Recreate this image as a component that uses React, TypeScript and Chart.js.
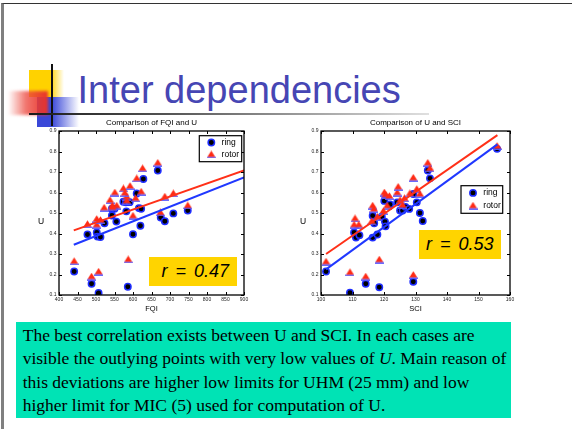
import React, { useEffect, useRef } from 'react';
import { Chart, registerables } from 'chart.js';

Chart.register(...registerables);

const SANS = '"Liberation Sans", Arial, Helvetica, sans-serif';
const SERIF = '"Liberation Serif", "Times New Roman", Times, serif';

// ---------- tick labels ----------
const U_TICKS = [0.1, 0.2, 0.3, 0.4, 0.5, 0.6, 0.7, 0.8, 0.9];
const FQI_TICKS = [400, 450, 500, 550, 600, 650, 700, 750, 800, 850, 900];
const SCI_TICKS = [100, 110, 120, 130, 140, 150, 160];

// ---------- Comparison of FQI and U ----------
const FQI_RING_X = [441, 488, 507, 586, 477, 502, 504, 512, 523, 543, 543, 555, 550, 574, 581, 591, 582, 610, 628, 616, 622, 600, 620, 667, 675, 686, 709, 748];
const FQI_RING_U = [0.215, 0.155, 0.11, 0.14, 0.395, 0.405, 0.385, 0.383, 0.45, 0.488, 0.521, 0.458, 0.521, 0.555, 0.552, 0.553, 0.508, 0.595, 0.666, 0.524, 0.521, 0.396, 0.438, 0.707, 0.478, 0.46, 0.498, 0.512];
const FQI_ROTOR_X = [441, 488, 507, 587, 477, 502, 502, 512, 522, 538, 551, 544, 556, 574, 592, 583, 578, 610, 626, 607, 622, 600, 667, 674, 686, 709, 748, 583, 545];
const FQI_ROTOR_U = [0.265, 0.19, 0.214, 0.274, 0.446, 0.471, 0.443, 0.466, 0.526, 0.563, 0.6, 0.536, 0.536, 0.62, 0.632, 0.58, 0.598, 0.669, 0.718, 0.572, 0.604, 0.487, 0.745, 0.503, 0.58, 0.596, 0.537, 0.56, 0.528];
const FQI_FIT_X = [440, 900];
const FQI_RING_FIT_U = [0.345, 0.673];
const FQI_ROTOR_FIT_U = [0.415, 0.708];

// ---------- Comparison of U and SCI ----------
const SCI_RING_X = [101.6, 109.2, 114.2, 118.5, 129.3, 110.5, 111.1, 112.2, 116.4, 116.9, 116.4, 117.9, 119.3, 120.1, 120.3, 120.5, 121.9, 124.2, 125.1, 125.9, 126.8, 128, 129.3, 130.4, 131.4, 132.3, 133.9, 134.6, 155.9];
const SCI_RING_U = [0.215, 0.111, 0.155, 0.138, 0.165, 0.405, 0.38, 0.392, 0.487, 0.45, 0.38, 0.395, 0.482, 0.559, 0.458, 0.435, 0.542, 0.552, 0.512, 0.512, 0.53, 0.52, 0.593, 0.552, 0.5, 0.461, 0.707, 0.669, 0.813];
const SCI_ROTOR_X = [101.6, 109.2, 114.2, 118.5, 129.3, 110.8, 110.5, 112, 116.4, 116.8, 117.9, 116.1, 120.1, 120.5, 121, 121.7, 119.8, 124.2, 124.5, 125.1, 126.5, 125.9, 128.2, 129.3, 130.4, 131.4, 133.9, 134.6, 155.9];
const SCI_ROTOR_U = [0.263, 0.211, 0.19, 0.273, 0.198, 0.474, 0.443, 0.443, 0.536, 0.52, 0.482, 0.46, 0.6, 0.59, 0.536, 0.583, 0.51, 0.6, 0.628, 0.563, 0.572, 0.539, 0.596, 0.672, 0.617, 0.593, 0.745, 0.718, 0.827];
const SCI_FIT_X = [101.6, 156];
const SCI_RING_FIT_U = [0.225, 0.835];
const SCI_ROTOR_FIT_U = [0.3, 0.88];

// ---------- styles ----------
const RING_FILL = '#000000';
const RING_EDGE = '#1e2dff';
const ROTOR_FILL = '#ff2a14';
const ROTOR_EDGE = '#5a5aff';
const RING_LINE = '#2038ff';
const ROTOR_LINE = '#ff3018';

const pts = (xs: number[], ys: number[]) => xs.map((x, i) => ({ x, y: ys[i] }));

function makeRotorMarker(): HTMLCanvasElement {
  const c = document.createElement('canvas');
  c.width = 9;
  c.height = 8;
  const g = c.getContext('2d')!;
  g.beginPath();
  g.moveTo(4.5, 0.3);
  g.lineTo(8.6, 6.8);
  g.lineTo(0.4, 6.8);
  g.closePath();
  g.fillStyle = ROTOR_FILL;
  g.fill();
  g.fillStyle = ROTOR_EDGE;
  g.fillRect(0, 6.6, 9, 1.3);
  return c;
}

function drawRing(ctx: CanvasRenderingContext2D, x: number, y: number) {
  ctx.beginPath();
  ctx.arc(x, y, 3.2, 0, Math.PI * 2);
  ctx.fillStyle = RING_FILL;
  ctx.fill();
  ctx.lineWidth = 1.5;
  ctx.strokeStyle = RING_EDGE;
  ctx.stroke();
}

type LegendCfg = { right: number; top: number; w: number; h: number };

type PlotProps = {
  left: number;
  top: number;
  width: number;
  height: number;
  yAxisWidth: number;
  padRight: number;
  title: string;
  xTitle: string;
  xMin: number;
  xMax: number;
  xTicks: number[];
  ringX: number[];
  ringU: number[];
  rotorX: number[];
  rotorU: number[];
  fitX: number[];
  ringFit: number[];
  rotorFit: number[];
  legend: LegendCfg;
};

function ScatterPlot(p: PlotProps) {
  const ref = useRef<HTMLCanvasElement | null>(null);

  useEffect(() => {
    if (!ref.current) return;
    const rotorMarker = makeRotorMarker();
    const decor = {
      id: 'decor',
      afterDatasetsDraw(chart: any) {
        const { ctx, chartArea: a, scales } = chart;
        ctx.save();
        // inward tick marks on all four sides
        ctx.strokeStyle = '#000';
        ctx.lineWidth = 1;
        ctx.beginPath();
        for (const v of p.xTicks) {
          const px = Math.round(scales.x.getPixelForValue(v)) + 0.5;
          ctx.moveTo(px, a.bottom);
          ctx.lineTo(px, a.bottom - 3);
          ctx.moveTo(px, a.top);
          ctx.lineTo(px, a.top + 3);
        }
        for (const v of U_TICKS) {
          const py = Math.round(scales.y.getPixelForValue(v)) + 0.5;
          ctx.moveTo(a.left, py);
          ctx.lineTo(a.left + 3, py);
          ctx.moveTo(a.right, py);
          ctx.lineTo(a.right - 3, py);
        }
        ctx.stroke();
        // frame
        ctx.lineWidth = 1.3;
        ctx.strokeRect(a.left, a.top, a.right - a.left, a.bottom - a.top);

        // legend
        const L = p.legend;
        const bx = a.right - L.right - L.w;
        const by = a.top + L.top;
        ctx.fillStyle = '#fff';
        ctx.fillRect(bx, by, L.w, L.h);
        ctx.lineWidth = 1.2;
        ctx.strokeStyle = '#000';
        ctx.strokeRect(bx, by, L.w, L.h);
        const r1 = by + L.h * 0.26;
        const r2 = by + L.h * 0.72;
        drawRing(ctx, bx + 12, r1);
        ctx.drawImage(rotorMarker, bx + 12 - 4.5, r2 - 4);
        ctx.fillStyle = '#000';
        ctx.font = `8.5px ${SANS}`;
        ctx.textAlign = 'left';
        ctx.textBaseline = 'middle';
        ctx.fillText(chart.data.datasets[3].label, bx + 22.3, r1);
        ctx.fillText(chart.data.datasets[2].label, bx + 22.3, r2);

        // title and y label
        ctx.font = `8px ${SANS}`;
        ctx.textAlign = 'center';
        ctx.fillText(p.title, (a.left + a.right) / 2, a.top - 8.5);
        ctx.font = `8.5px ${SANS}`;
        ctx.fillText('U', a.left - 18, (a.top + a.bottom) / 2 + 9);
        ctx.restore();
      },
    };

    const tickFont = { size: 5, family: SANS };
    const chart = new Chart(ref.current, {
      type: 'scatter',
      data: {
        datasets: [
          {
            type: 'line',
            label: 'rotor fit',
            data: pts(p.fitX, p.rotorFit),
            borderColor: ROTOR_LINE,
            borderWidth: 2,
            pointRadius: 0,
            fill: false,
            tension: 0,
          } as any,
          {
            type: 'line',
            label: 'ring fit',
            data: pts(p.fitX, p.ringFit),
            borderColor: RING_LINE,
            borderWidth: 2,
            pointRadius: 0,
            fill: false,
            tension: 0,
          } as any,
          {
            label: 'rotor',
            data: pts(p.rotorX, p.rotorU),
            pointStyle: rotorMarker,
            pointRadius: 4,
            backgroundColor: ROTOR_FILL,
            borderColor: ROTOR_EDGE,
            borderWidth: 0,
          },
          {
            label: 'ring',
            data: pts(p.ringX, p.ringU),
            pointStyle: 'circle',
            pointRadius: 3.2,
            backgroundColor: RING_FILL,
            borderColor: RING_EDGE,
            borderWidth: 1.5,
          },
        ],
      },
      options: {
        responsive: false,
        animation: false,
        devicePixelRatio: 1,
        events: [],
        layout: { padding: { top: 19, right: p.padRight, left: 0, bottom: 0 } },
        plugins: {
          legend: { display: false },
          tooltip: { enabled: false },
          title: { display: false },
        },
        scales: {
          x: {
            type: 'linear',
            min: p.xMin,
            max: p.xMax,
            afterBuildTicks: (s: any) => {
              s.ticks = p.xTicks.map((v) => ({ value: v }));
            },
            afterFit: (s: any) => {
              s.height = 22;
            },
            grid: { display: false, drawTicks: false },
            border: { display: false },
            ticks: {
              font: tickFont,
              color: '#222',
              padding: 1.5,
              maxRotation: 0,
              autoSkip: false,
              callback: (v: any) => String(v),
            },
            title: {
              display: true,
              text: p.xTitle,
              font: { size: 7.5, family: SANS },
              color: '#000',
              padding: { top: 0, bottom: 3.5 },
            },
          },
          y: {
            type: 'linear',
            min: 0.1,
            max: 0.9,
            afterBuildTicks: (s: any) => {
              s.ticks = U_TICKS.map((v) => ({ value: v }));
            },
            afterFit: (s: any) => {
              s.width = p.yAxisWidth;
            },
            grid: { display: false, drawTicks: false },
            border: { display: false },
            ticks: {
              font: tickFont,
              color: '#222',
              padding: 2.5,
              autoSkip: false,
              callback: (v: any) => Number(v).toFixed(1),
            },
          },
        },
      } as any,
      plugins: [decor],
    });
    return () => chart.destroy();
  }, []);

  return (
    <canvas
      ref={ref}
      width={p.width}
      height={p.height}
      style={{ position: 'absolute', left: p.left, top: p.top, width: p.width, height: p.height, zIndex: 2 }}
    />
  );
}

const abs = (s: React.CSSProperties): React.CSSProperties => ({ position: 'absolute', ...s });

export default function App() {
  return (
    <div
      style={{
        position: 'fixed',
        left: 0,
        top: 0,
        width: 572,
        height: 429,
        background: '#fff',
        overflow: 'hidden',
      }}
    >
      {/* slide border */}
      <div style={abs({ left: 1, top: 3, width: 700, height: 600, borderLeft: '3px solid #808080', borderTop: '1px solid #333' })} />

      {/* decorative squares */}
      <div
        style={abs({
          left: 29,
          top: 70,
          width: 35,
          height: 27,
          background: 'linear-gradient(to right, #ffd200 0%, #ffd200 60%, rgba(255,210,0,0) 100%)',
          zIndex: 1,
        })}
      />
      <div
        style={abs({
          left: 37,
          top: 97,
          width: 42,
          height: 30,
          background: 'linear-gradient(to right, #3a48d8 0%, #3a48d8 35%, rgba(58,72,216,0) 100%)',
          zIndex: 1,
        })}
      />
      <div
        style={abs({
          left: 8,
          top: 91,
          width: 40,
          height: 24,
          background: 'linear-gradient(to right, rgba(240,90,80,0) 0%, rgba(236,70,60,0.75) 45%, #e8322a 100%)',
          filter: 'blur(1.5px)',
          zIndex: 1,
        })}
      />
      <div style={abs({ left: 51, top: 64, width: 1.5, height: 62, background: '#111', zIndex: 1 })} />
      <div
        style={abs({
          left: 29,
          top: 112.5,
          width: 400,
          height: 2,
          background: 'linear-gradient(to right, #1a1a1a 0%, #555 35%, #e0e0e0 100%)',
          zIndex: 1,
        })}
      />

      {/* slide title */}
      <div
        style={abs({
          left: 77.5,
          top: 70.8,
          fontFamily: SANS,
          fontSize: 38,
          lineHeight: 1,
          color: '#4646b4',
          whiteSpace: 'nowrap',
          zIndex: 1,
        })}
      >
        Inter dependencies
      </div>

      <ScatterPlot
        left={30}
        top={112}
        width={230}
        height={205}
        yAxisWidth={29}
        padRight={16}
        title="Comparison of FQI and U"
        xTitle="FQI"
        xMin={400}
        xMax={900}
        xTicks={FQI_TICKS}
        ringX={FQI_RING_X}
        ringU={FQI_RING_U}
        rotorX={FQI_ROTOR_X}
        rotorU={FQI_ROTOR_U}
        fitX={FQI_FIT_X}
        ringFit={FQI_RING_FIT_U}
        rotorFit={FQI_ROTOR_FIT_U}
        legend={{ right: 2.3, top: 4.7, w: 42.4, h: 26 }}
      />
      <ScatterPlot
        left={290}
        top={112}
        width={240}
        height={205}
        yAxisWidth={31}
        padRight={20}
        title="Comparison of U and SCI"
        xTitle="SCI"
        xMin={100}
        xMax={160}
        xTicks={SCI_TICKS}
        ringX={SCI_RING_X}
        ringU={SCI_RING_U}
        rotorX={SCI_ROTOR_X}
        rotorU={SCI_ROTOR_U}
        fitX={SCI_FIT_X}
        ringFit={SCI_RING_FIT_U}
        rotorFit={SCI_ROTOR_FIT_U}
        legend={{ right: 7.3, top: 54.7, w: 41.7, h: 27.6 }}
      />

      {/* correlation labels */}
      <div
        style={abs({
          left: 149,
          top: 257,
          width: 88,
          height: 29,
          background: '#ffd400',
          fontFamily: SANS,
          fontStyle: 'italic',
          fontSize: 18,
          lineHeight: '29px',
          wordSpacing: 3,
          paddingLeft: 12.5,
          boxSizing: 'border-box',
          color: '#000',
          whiteSpace: 'nowrap',
          zIndex: 3,
        })}
      >
        r = 0.47
      </div>
      <div
        style={abs({
          left: 419,
          top: 230,
          width: 82,
          height: 29,
          background: '#ffd400',
          fontFamily: SANS,
          fontStyle: 'italic',
          fontSize: 18,
          lineHeight: '29px',
          wordSpacing: 3,
          paddingLeft: 7,
          boxSizing: 'border-box',
          color: '#000',
          whiteSpace: 'nowrap',
          zIndex: 3,
        })}
      >
        r = 0.53
      </div>

      {/* text box */}
      <div
        style={abs({
          left: 16,
          top: 321.7,
          width: 495,
          height: 96,
          background: '#00e3b5',
          boxSizing: 'border-box',
          paddingLeft: 6.7,
          paddingTop: 2.5,
          fontFamily: SERIF,
          fontSize: 17.5,
          lineHeight: '23.3px',
          color: '#000',
          whiteSpace: 'nowrap',
          zIndex: 1,
        })}
      >
        The best correlation exists between U and SCI. In each cases are
        <br />
        visible the outlying points with very low values of <i>U</i>. Main reason of
        <br />
        this deviations are higher low limits for UHM (25 mm) and low
        <br />
        higher limit for MIC (5) used for computation of U.
      </div>
    </div>
  );
}
